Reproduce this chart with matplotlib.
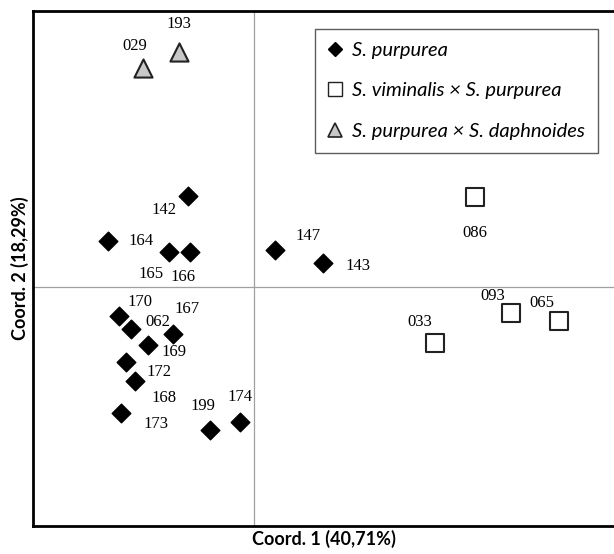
import numpy as np
import matplotlib.pyplot as plt
from matplotlib.lines import Line2D

# ── data (PCoA coordinates) ─────────────────────────────────────────────────
pur_ids = ["142", "164", "165", "166", "147", "143", "170", "062", "167",
           "169", "172", "168", "173", "199", "174"]
pur_x = [-0.66, -1.46, -0.85, -0.64, 0.21, 0.69, -1.35, -1.23, -0.81,
         -1.06, -1.28, -1.19, -1.33, -0.44, -0.14]
pur_y = [0.91, 0.46, 0.35, 0.35, 0.37, 0.24, -0.29, -0.42, -0.47,
         -0.58, -0.75, -0.94, -1.26, -1.43, -1.35]

vp_ids = ["086", "033", "093", "065"]
vp_x = [2.21, 1.81, 2.57, 3.05]
vp_y = [0.90, -0.56, -0.26, -0.34]

pd_ids = ["029", "193"]
pd_x = [-1.11, -0.75]
pd_y = [2.19, 2.35]

# label offsets in points (dx, dy)
offsets = {
    "142": (-17, -10), "164": (24, 0), "165": (-13, -16), "166": (-5, -18),
    "147": (24, 10), "143": (25, -2), "170": (15, 10), "062": (19, 5),
    "167": (10, 18), "169": (19, -5), "172": (24, -7), "168": (21, -12),
    "173": (25, -8), "199": (-5, 17), "174": (0, 18),
    "086": (0, -26), "033": (-11, 15), "093": (-13, 12), "065": (-12, 13),
    "029": (-6, 16), "193": (0, 20),
}

fig = plt.figure(figsize=(6.14, 5.54), dpi=100)
ax = fig.add_axes([33 / 614, 28 / 554, 581 / 614, 515 / 554])

ax.set_xlim(-2.21, 3.60)
ax.set_ylim(-2.39, 2.76)
ax.axhline(0, color="#a0a0a0", lw=0.9, zorder=1)
ax.axvline(0, color="#a0a0a0", lw=0.9, zorder=1)

ax.scatter(pur_x, pur_y, marker="D", s=90, c="black", zorder=3)
ax.scatter(vp_x, vp_y, marker="s", s=150, facecolors="white",
           edgecolors="#222222", linewidths=1.5, zorder=3)
ax.scatter(pd_x, pd_y, marker="^", s=170, facecolors="#c8c8c8",
           edgecolors="#222222", linewidths=1.5, zorder=3)

for ids, xs, ys in [(pur_ids, pur_x, pur_y), (vp_ids, vp_x, vp_y),
                    (pd_ids, pd_x, pd_y)]:
    for i, x, y in zip(ids, xs, ys):
        ax.annotate(i, (x, y), xytext=offsets[i], textcoords="offset points",
                    ha="center", va="center", fontsize=12,
                    family="Liberation Serif")

ax.set_xticks([])
ax.set_yticks([])
for side in ["left", "top", "bottom"]:
    ax.spines[side].set_linewidth(2)
ax.spines["right"].set_visible(False)

ax.set_xlabel("Coord. 1 (40,71%)", fontsize=13, fontweight="bold",
              family="Lato", labelpad=3)
ax.set_ylabel("Coord. 2 (18,29%)", fontsize=13, fontweight="bold",
              family="Lato", labelpad=3)

handles = [
    Line2D([], [], marker="D", ls="none", color="black", markersize=7),
    Line2D([], [], marker="s", ls="none", mfc="white", mec="#222222",
           mew=1.0, markersize=10),
    Line2D([], [], marker="^", ls="none", mfc="#c8c8c8", mec="#222222",
           mew=1.2, markersize=10),
]
labels = ["S. purpurea", "S. viminalis \u00d7 S. purpurea",
          "S. purpurea \u00d7 S. daphnoides"]
leg = ax.legend(handles, labels, loc="upper left",
                bbox_to_anchor=(282 / 581, 1 - 18 / 515),
                prop={"family": "Lato", "style": "italic", "size": 14.5},
                frameon=True, fancybox=False, edgecolor="#333333",
                handlelength=0.7, handletextpad=0.5, labelspacing=1.15,
                borderpad=0.65, borderaxespad=0)
leg.get_frame().set_linewidth(1.0)

fig.savefig("out.png", dpi=100)
